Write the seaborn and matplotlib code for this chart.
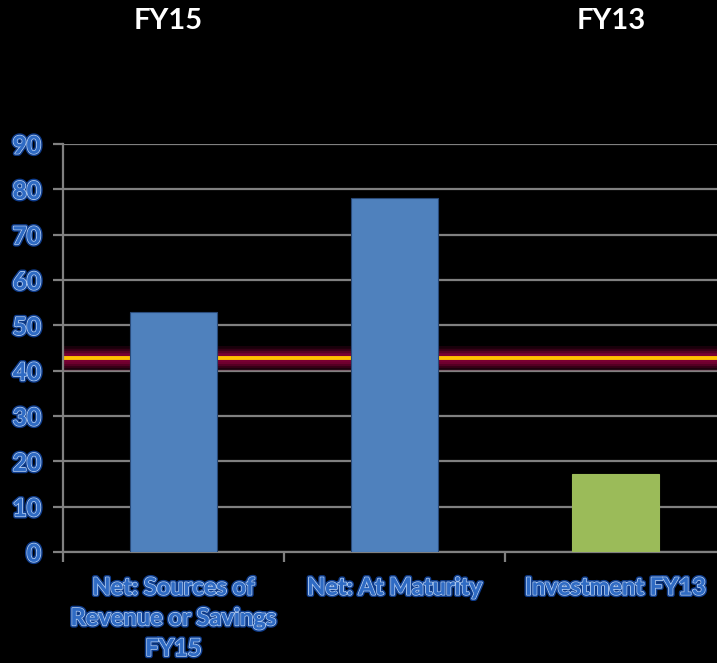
import matplotlib
matplotlib.use("Agg")
import matplotlib.pyplot as plt
import matplotlib.patheffects as pe
import seaborn as sns
import pandas as pd

categories = ["Net: Sources of\nRevenue or Savings\nFY15", "Net: At Maturity", "Investment FY13"]
values = [53, 78, 17.2]
bar_colors = ["#4F81BD", "#4F81BD", "#9BBB59"]
reference_value = 42.8
y_ticks = [0, 10, 20, 30, 40, 50, 60, 70, 80, 90]
titles = ["FY15", "FY13"]

sns.set_theme(style="dark")
plt.rcParams['font.family'] = ['Lato', 'DejaVu Sans']

W, H = 717, 663
fig = plt.figure(figsize=(W / 100, H / 100), dpi=100, facecolor="black")
left, right = 63, 726
bottom, top = 552, 144
ax = fig.add_axes([left / W, 1 - bottom / H, (right - left) / W, (bottom - top) / H])
ax.set_facecolor("black")

df = pd.DataFrame({"cat": categories, "val": values})
sns.barplot(data=df, x="cat", y="val", hue="cat", palette=bar_colors, width=0.395,
            legend=False, ax=ax, saturation=1, zorder=3,
            edgecolor="#2A4A78", linewidth=0.8)
ax.patches[2].set_edgecolor("#9BBB59")

ax.set_xlim(-0.5, 2.5)
ax.set_ylim(0, 90)
ax.set_yticks(y_ticks)
ax.set_xticks([-0.5, 0.5, 1.5], minor=True)

# gridlines
ax.grid(False)
for t in y_ticks:
    ax.axhline(t, color="#808080", lw=1.6, zorder=1)

# glow + reference line
for lw, a in [(18, 0.2), (14, 0.3), (11, 0.45), (8, 0.7), (6, 0.9)]:
    ax.axhline(reference_value, color="#7A0034", lw=lw, alpha=a, zorder=2,
               solid_capstyle="butt")
ax.axhline(reference_value, color="#FFC000", lw=2.8, zorder=2.5)

for s in ["top", "right"]:
    ax.spines[s].set_visible(False)
ax.spines["left"].set_color("#808080")
ax.spines["left"].set_linewidth(1.6)
ax.spines["bottom"].set_color("#808080")
ax.spines["bottom"].set_linewidth(1.6)
ax.spines["left"].set_zorder(4)

label_effects = [pe.withStroke(linewidth=3.5, foreground="#0E3C8C"),
                 pe.withStroke(linewidth=1.4, foreground="#A8C4EC"),
                 pe.Normal()]

ax.tick_params(axis="y", which="major", length=7, width=1.6, color="#808080",
               direction="out", pad=9, left=True)
ax.tick_params(axis="x", which="major", length=0, pad=17)
ax.tick_params(axis="x", which="minor", length=7, width=1.6, color="#808080",
               direction="out", bottom=True)
ax.set_xlabel("")
ax.set_ylabel("")
ax.set_xticks(range(len(categories)))
ax.set_xticklabels(categories, linespacing=1.4)
for lab in ax.get_yticklabels():
    lab.set_fontsize(17.5)
    lab.set_fontweight("bold")
    lab.set_color("#2F6BC4")
    lab.set_path_effects(label_effects)
for lab in ax.get_xticklabels():
    lab.set_fontsize(17)
    lab.set_fontweight("bold")
    lab.set_color("#2F6BC4")
    lab.set_path_effects(label_effects)
    lab.set_verticalalignment("top")

fig.text(168 / W, 1 - 21 / H, titles[0], color="white", fontsize=21,
         fontweight="bold", ha="center", va="center")
fig.text(611 / W, 1 - 21 / H, titles[1], color="white", fontsize=21,
         fontweight="bold", ha="center", va="center")

fig.savefig("out.png", dpi=100, facecolor="black")
